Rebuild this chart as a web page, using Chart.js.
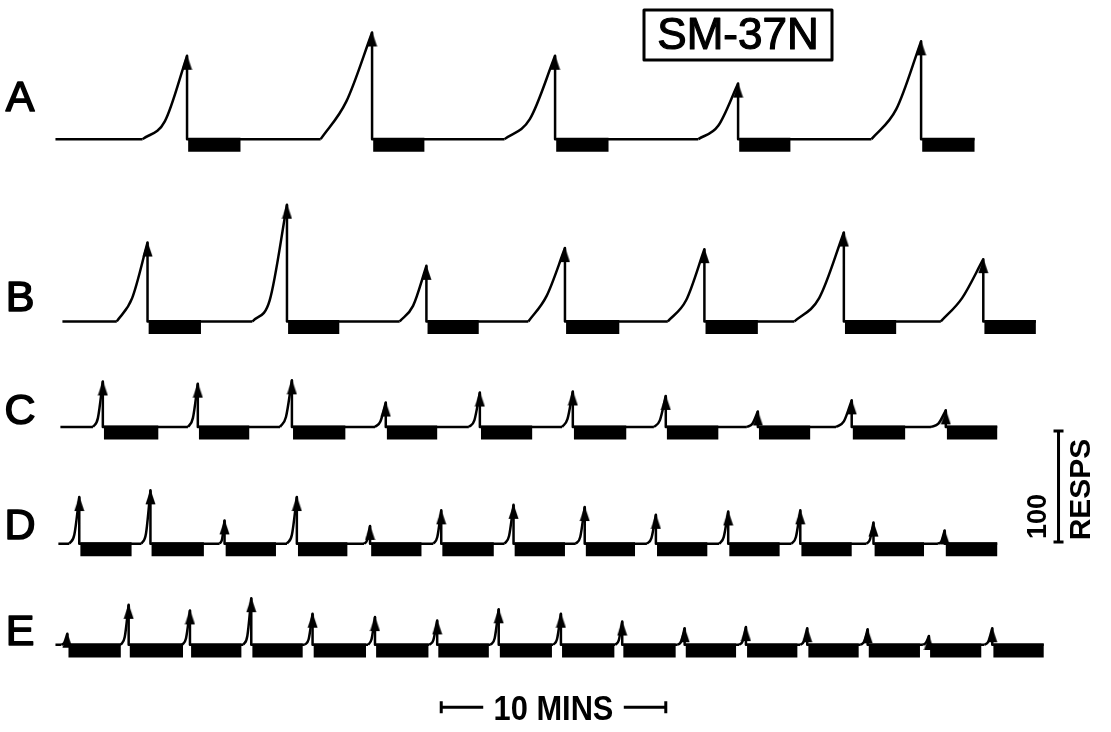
<!DOCTYPE html>
<html>
<head>
<meta charset="utf-8">
<script src="https://cdn.jsdelivr.net/npm/chart.js@4.4.1/dist/chart.umd.min.js"></script>
<style>
  html, body { margin: 0; padding: 0; background: #fff; }
  canvas { display: block; }
</style>
</head>
<body>
<canvas id="record" width="1111" height="732"></canvas>
<script>
// cumulative records, time in minutes, counts in responses
const rows = ["A", "B", "C", "D", "E"];
const traceStart = [0, 0.31, 0.22, 0.13, 0];

const aStart  = [3.88, 11.81, 20.00, 28.63, 36.34];
const aPeak   = [5.86, 14.10, 22.25, 30.40, 38.55];
const aEnd    = [8.24, 16.43, 24.63, 32.73, 40.93];
const aHeight = [75, 96, 75, 50, 88];
const aHalf   = [16, 34, 18, 12, 27];

const bStart  = [2.73, 8.77, 15.33, 21.06, 27.27, 32.91, 39.43];
const bPeak   = [4.10, 10.31, 16.52, 22.69, 28.90, 35.11, 41.32];
const bEnd    = [6.48, 12.64, 18.85, 25.11, 31.28, 37.44, 43.66];
const bHeight = [71, 105, 50, 66, 65, 80, 56];
const bHalf   = [21, 19, 14, 23, 19, 21, 21];

const cStart  = [1.67, 5.90, 10.00, 14.23, 18.41, 22.56, 26.65, 30.79, 34.76, 38.99];
const cPeak   = [2.11, 6.34, 10.53, 14.71, 18.90, 23.04, 27.18, 31.28, 35.46, 39.65];
const cEnd    = [4.58, 8.63, 12.91, 17.00, 21.23, 25.42, 29.52, 33.61, 37.84, 41.94];
const cHeight = [41, 39, 42, 22, 31, 32, 28, 14, 24, 15];
const cHalf   = [8, 8, 9, 5, 6, 7, 6, 3, 5, 3];

const dStart  = [0.62, 3.83, 7.31, 10.31, 13.74, 16.83, 20.00, 23.17, 26.34, 29.56, 32.78, 36.12, 39.30];
const dPeak   = [1.06, 4.23, 7.53, 10.75, 14.01, 17.18, 20.40, 23.57, 26.74, 29.96, 33.17, 36.43, 39.60];
const dEnd    = [3.39, 6.61, 9.82, 13.00, 16.30, 19.52, 22.69, 25.81, 29.03, 32.25, 35.46, 38.68, 41.94];
const dHeight = [42, 48, 21, 42, 16, 30, 35, 33, 26, 29, 30, 19, 12];
const dHalf   = [8, 9, 4, 8, 3, 6, 7, 6, 5, 6, 6, 4, 2];

const eStart  = [0.26, 2.91, 5.64, 8.37, 11.10, 13.92, 16.65, 19.38, 22.16, 24.93, 27.71, 30.44, 33.17, 35.86, 38.63, 41.37];
const ePeak   = [0.53, 3.26, 5.99, 8.72, 11.45, 14.23, 17.00, 19.74, 22.51, 25.24, 28.02, 30.75, 33.48, 36.17, 38.90, 41.72];
const eEnd    = [2.91, 5.68, 8.28, 11.01, 13.83, 16.61, 19.30, 22.11, 24.89, 27.62, 30.31, 33.04, 35.77, 38.50, 41.23, 44.01];
const eHeight = [10, 36, 31, 42, 28, 25, 22, 32, 28, 21, 15, 16, 15, 14, 8, 15];
const eHalf   = [2, 7, 6, 8, 5, 5, 4, 6, 5, 4, 3, 3, 3, 3, 2, 3];

// layout: where each row sits on the page, in response units
const W = 1111, H = 732;
const PX_PER_MIN = 22.7, PX_PER_RESP = 1.13, LEFT = 50;
const rowBase = [528, 364, 269, 164, 73];
const labelLift = [25, 9, 3, 4, 0];
const timeBar = { from: 17.18, mins: 10, level: 16.8 };
const respBar = { at: 44.67, from: 165.5, resps: 100 };

const records = [
  { start: aStart, peak: aPeak, end: aEnd, height: aHeight, half: aHalf },
  { start: bStart, peak: bPeak, end: bEnd, height: bHeight, half: bHalf },
  { start: cStart, peak: cPeak, end: cEnd, height: cHeight, half: cHalf },
  { start: dStart, peak: dPeak, end: dEnd, height: dHeight, half: dHalf },
  { start: eStart, peak: ePeak, end: eEnd, height: eHeight, half: eHalf }
];

// arrow head drawn once, tip in the middle so it sits on the peak
const arrow = document.createElement("canvas");
arrow.width = 11; arrow.height = 32;
(function () {
  const c = arrow.getContext("2d");
  c.fillStyle = "#000";
  c.beginPath();
  c.moveTo(5.5, 15);
  c.lineTo(10.5, 30);
  c.lineTo(0.5, 30);
  c.closePath();
  c.fill();
})();

const datasets = [];
records.forEach((r, i) => {
  const b = rowBase[i];
  const flat = [{ x: traceStart[i], y: b }];
  const curve = [];
  const bars = [];
  const heads = [];
  r.peak.forEach((p, k) => {
    flat.push({ x: r.start[k], y: b });
    flat.push({ x: (r.start[k] + p) / 2, y: null });
    flat.push({ x: p, y: b + r.height[k] });
    flat.push({ x: p, y: b });
    curve.push({ x: r.start[k], y: b });
    curve.push({ x: (r.start[k] + p) / 2, y: b + r.half[k] });
    curve.push({ x: p, y: b + r.height[k] });
    curve.push({ x: p + 0.01, y: null });
    bars.push({ x: p + 0.05, y: b - 5 });
    bars.push({ x: r.end[k], y: b - 5 });
    bars.push({ x: r.end[k] + 0.01, y: null });
    heads.push({ x: p, y: b + r.height[k] });
  });
  flat.push({ x: r.end[r.end.length - 1], y: b });

  datasets.push({
    label: rows[i] + " bars", data: bars, order: 0,
    borderColor: "#000", borderWidth: 14, borderCapStyle: "butt",
    pointRadius: 0, fill: false
  });
  datasets.push({
    label: rows[i] + " resets", data: heads, order: 1, showLine: false,
    pointStyle: arrow, pointRadius: 5
  });
  datasets.push({
    label: rows[i] + " scallops", data: curve, order: 2,
    borderColor: "#000", borderWidth: 2.5, cubicInterpolationMode: "monotone",
    borderJoinStyle: "round", pointRadius: 0, fill: false
  });
  datasets.push({
    label: rows[i], data: flat, order: 3,
    borderColor: "#000", borderWidth: 2.5, tension: 0,
    borderJoinStyle: "round", pointRadius: 0, fill: false
  });
});

// filled text with a thin outline, to get the medium pen weight of the lettering
function letter(ctx, text, x, y) {
  ctx.fillText(text, x, y);
  ctx.strokeText(text, x, y);
}

const annotate = {
  id: "annotate",
  afterDatasetsDraw(chart) {
    const { ctx, scales: { x, y } } = chart;
    ctx.save();
    ctx.fillStyle = "#000";
    ctx.strokeStyle = "#000";

    // row letters
    ctx.font = '43px "Liberation Sans"';
    ctx.textAlign = "center";
    ctx.textBaseline = "alphabetic";
    ctx.lineWidth = 1.6;
    ctx.lineJoin = "round";
    rows.forEach((r, i) => letter(ctx, r, 20, y.getPixelForValue(rowBase[i] + labelLift[i])));

    // subject box
    ctx.font = '44px "Liberation Sans"';
    ctx.lineWidth = 1.2;
    letter(ctx, "SM-37N", 738, 49);
    ctx.lineWidth = 3;
    ctx.strokeRect(644, 10, 188, 50);

    // 10 min bar
    const x0 = x.getPixelForValue(timeBar.from);
    const x1 = x.getPixelForValue(timeBar.from + timeBar.mins);
    const ty = y.getPixelForValue(timeBar.level);
    ctx.lineWidth = 3;
    ctx.beginPath();
    ctx.moveTo(x0, ty); ctx.lineTo(x0 + 42, ty);
    ctx.moveTo(x1 - 42, ty); ctx.lineTo(x1, ty);
    ctx.moveTo(x0, ty - 6); ctx.lineTo(x0, ty + 6);
    ctx.moveTo(x1, ty - 6); ctx.lineTo(x1, ty + 6);
    ctx.stroke();
    ctx.save();
    ctx.translate((x0 + x1) / 2, ty + 13);
    ctx.scale(0.88, 1);
    ctx.font = 'bold 35px "Liberation Sans"';
    ctx.fillText("10 MINS", 0, 0);
    ctx.restore();

    // 100 responses bar
    const rx = x.getPixelForValue(respBar.at);
    const y0 = y.getPixelForValue(respBar.from);
    const y1 = y.getPixelForValue(respBar.from + respBar.resps);
    ctx.beginPath();
    ctx.moveTo(rx, y0); ctx.lineTo(rx, y1);
    ctx.moveTo(rx - 5, y0); ctx.lineTo(rx + 5, y0);
    ctx.moveTo(rx - 5, y1); ctx.lineTo(rx + 5, y1);
    ctx.stroke();
    ctx.textBaseline = "middle";
    ctx.save();
    ctx.translate(rx - 20, (y0 + y1) / 2 + 30);
    ctx.rotate(-Math.PI / 2);
    ctx.font = 'bold 27px "Liberation Sans"';
    ctx.fillText("100", 0, 0);
    ctx.restore();
    ctx.save();
    ctx.translate(rx + 23, (y0 + y1) / 2 + 3);
    ctx.rotate(-Math.PI / 2);
    ctx.font = 'bold 30px "Liberation Sans"';
    ctx.fillText("RESPS", 0, 0);
    ctx.restore();

    ctx.restore();
  }
};

new Chart(document.getElementById("record").getContext("2d"), {
  type: "line",
  data: { datasets: datasets },
  options: {
    responsive: false,
    animation: false,
    devicePixelRatio: 1,
    layout: { padding: 0 },
    scales: {
      x: { type: "linear", display: false, min: -LEFT / PX_PER_MIN, max: (W - LEFT) / PX_PER_MIN },
      y: { type: "linear", display: false, min: 0, max: H / PX_PER_RESP }
    },
    plugins: { legend: { display: false }, tooltip: { enabled: false } }
  },
  plugins: [annotate]
});
</script>
</body>
</html>
